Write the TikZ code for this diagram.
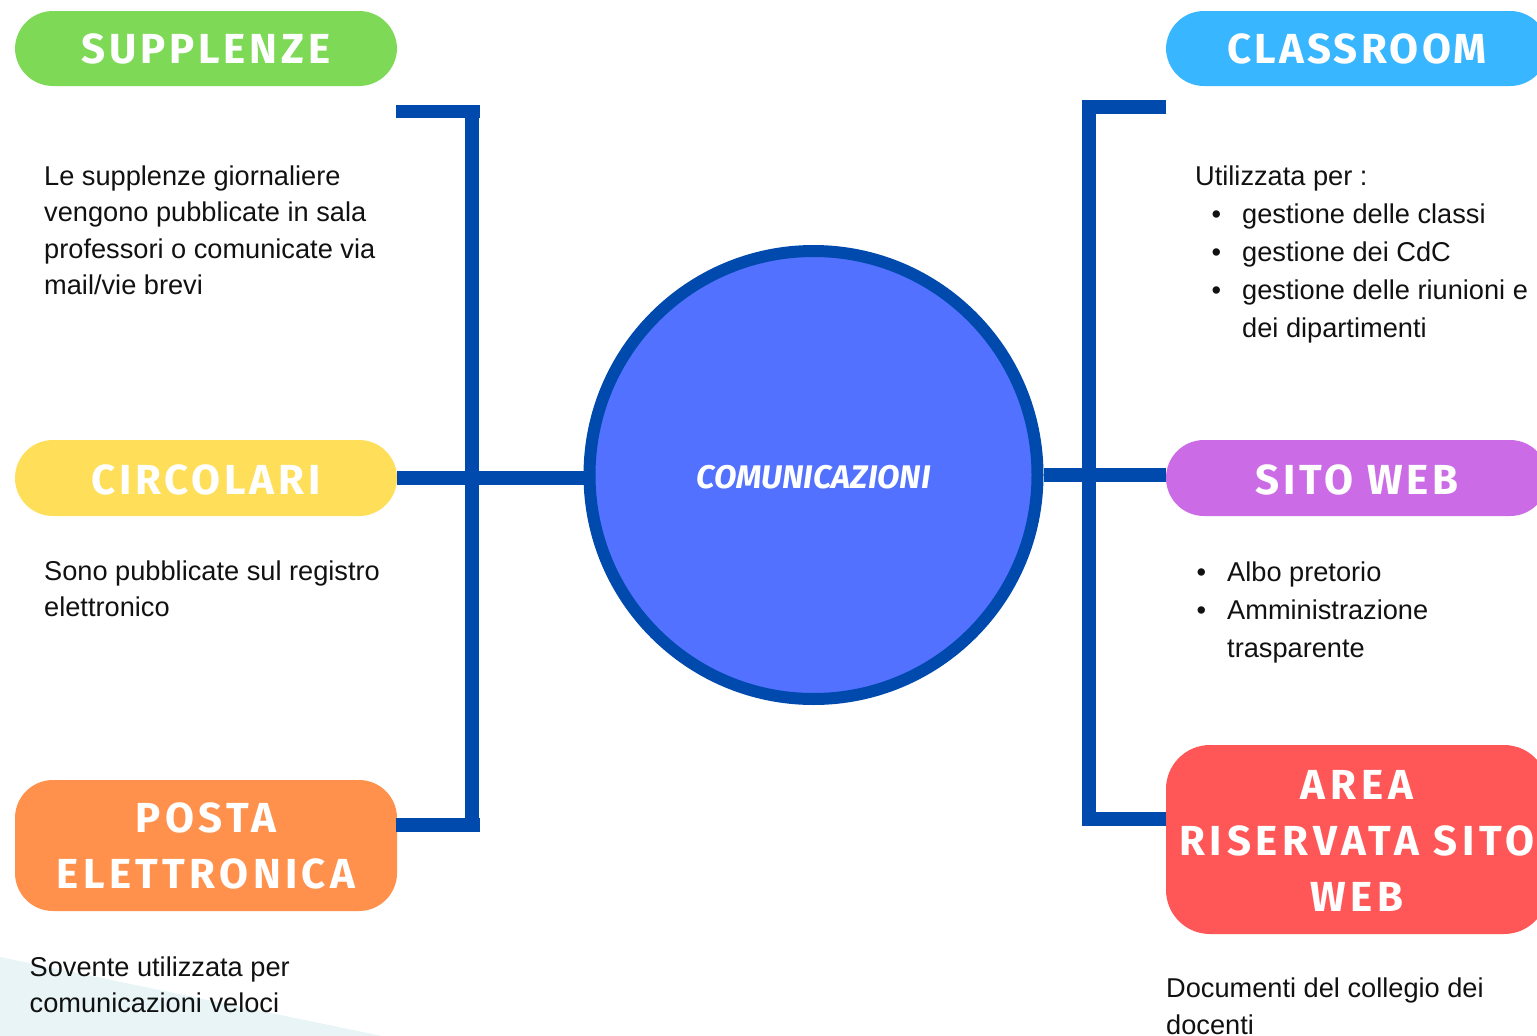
\documentclass[tikz,border=0pt]{standalone}
\usepackage{fontspec}
\setmainfont{Liberation Sans}
\newfontfamily\headfont[LetterSpace=9]{Fira Sans}
\newfontfamily\headfontA[LetterSpace=7.7]{Fira Sans}
\newfontfamily\headfontB[LetterSpace=10.5]{Fira Sans}
\newfontfamily\headfontC[LetterSpace=11.5]{Fira Sans}
\newfontfamily\circfont{Fira Sans}
\definecolor{cGreen}{HTML}{7ED957}
\definecolor{cBlue}{HTML}{38B6FF}
\definecolor{cYellow}{HTML}{FFDE59}
\definecolor{cPurple}{HTML}{CB6CE6}
\definecolor{cOrange}{HTML}{FF914D}
\definecolor{cRed}{HTML}{FF5757}
\definecolor{cLine}{HTML}{004AAD}
\definecolor{cCircle}{HTML}{5271FF}
\definecolor{cTeal}{HTML}{E8F4F5}
\definecolor{cText}{HTML}{111111}
\newcommand{\bul}{\llap{•\hspace{21pt}}}
\newcommand{\up}[1]{\rule{0pt}{#1pt}}
\tikzset{
  pill/.style={rounded corners=38pt,minimum width=382pt,inner sep=0pt,align=center,text=white,
    font=\headfont\bfseries\fontsize{42}{56}\selectfont},
  body/.style={anchor=north west,inner sep=0pt,align=left,text=cText,
    font=\fontsize{27.2}{36.5}\selectfont},
  bodyr/.style={body,font=\fontsize{27.2}{38}\selectfont},
  wire/.style={draw=cLine,line width=13.5pt,line cap=butt,line join=miter},
}
\begin{document}
\begin{tikzpicture}[x=1pt,y=-1pt]
\useasboundingbox (0,0) rectangle (1537,1036);
\clip (0,0) rectangle (1537,1036);
\fill[cTeal] (0,957) -- (382,1036) -- (0,1036) -- cycle;

% centre
\node[circle,draw=cLine,fill=cCircle,line width=12pt,minimum size=448pt,inner sep=0pt,
      text=white,font=\circfont\bfseries\itshape\fontsize{32.7}{38}\selectfont] (centre) at (813.5,475) {\rule{0pt}{27pt}COMUNICAZIONI};

% pills
\node[pill,fill=cGreen,minimum height=75pt] (supplenze) at (206,48.5) {\up{31}SUPPLENZE};
\node[pill,fill=cYellow,minimum height=76pt] (circolari) at (206,478) {\up{33}CIRCOLARI};
\node[pill,fill=cOrange,minimum height=131pt,font=\headfontB\bfseries\fontsize{42}{56}\selectfont] (posta) at (206,845.5) {\up{31}POSTA\\ELETTRONICA};
\node[pill,fill=cBlue,minimum height=75pt,font=\headfontA\bfseries\fontsize{42}{56}\selectfont] (classroom) at (1357,48.5) {\up{31}CLASSROOM};
\node[pill,fill=cPurple,minimum height=76pt] (sito) at (1357,478) {\up{33}SITO WEB};
\node[pill,fill=cRed,minimum height=189pt,rounded corners=44pt,font=\headfontC\bfseries\fontsize{42}{56}\selectfont] (area) at (1357,839.5) {\up{31}AREA\\RISERVATA SITO\\WEB};

% connector ends
\coordinate (lt) at (396,111.5);
\coordinate (ltr) at (480,111.5);
\coordinate (lb) at (396,825);
\coordinate (lbr) at (480,825);
\coordinate (lc) at (472,111.5);
\coordinate (lcb) at (472,825);
\coordinate (rm) at (1166,475);
\coordinate (rt) at (1166,107);
\coordinate (rtl) at (1082,107);
\coordinate (rb) at (1166,819);
\coordinate (rbl) at (1082,819);
\coordinate (rtj) at (1089,107);
\coordinate (rbj) at (1089,819);

\draw[wire] (circolari.east) -- (circolari.east -| centre.west);
\draw[wire] (rm -| centre.east) -- (rm);
\draw[wire] (lt) -- (ltr);
\draw[wire] (lb) -- (lbr);
\draw[wire] (lc) -- (lcb);
\draw[wire] (rt) -- (rtl);
\draw[wire] (rb) -- (rbl);
\draw[wire] (rtj) -- (rbj);

% body texts
\node[body] (t1) at (44,165.5) {Le supplenze giornaliere\\vengono pubblicate in sala\\professori o comunicate via\\mail/vie brevi};
\node[body] (t2) at (44,560.5) {Sono pubblicate sul registro\\elettronico};
\node[body] (t3) at (29.5,956.5) {Sovente utilizzata per\\comunicazioni veloci};
\node[bodyr] (t4a) at (1195,165.5) {Utilizzata per :};
\node[bodyr] (t4) at (1242,203.5) {\bul gestione delle classi\\\bul gestione dei CdC\\\bul gestione delle riunioni e\\dei dipartimenti};
\node[bodyr] (t5) at (1227,561.5) {\bul Albo pretorio\\\bul Amministrazione\\trasparente};
\node[body] (t6) at (1166,978) {Documenti del collegio dei\\docenti};
\end{tikzpicture}
\end{document}
